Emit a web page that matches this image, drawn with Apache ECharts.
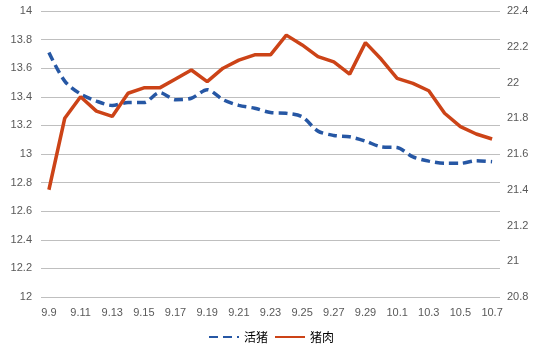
<!DOCTYPE html>
<html>
<head>
<meta charset="utf-8">
<script src="https://cdn.jsdelivr.net/npm/echarts@6/dist/echarts.min.js"></script>
<style>
  html, body { margin: 0; padding: 0; background: #fff; }
  #chart { width: 542px; height: 354px; }
</style>
</head>
<body>
<div id="chart"></div>
<script>
// 日期（9.9 ~ 10.7）
var dates = ['9.9', '9.10', '9.11', '9.12', '9.13', '9.14', '9.15', '9.16', '9.17', '9.18',
  '9.19', '9.20', '9.21', '9.22', '9.23', '9.24', '9.25', '9.26', '9.27', '9.28',
  '9.29', '9.30', '10.1', '10.2', '10.3', '10.4', '10.5', '10.6', '10.7'];

// 活猪 (左轴)
var livePig = [13.71, 13.51, 13.42, 13.37, 13.34, 13.36, 13.36, 13.43, 13.38, 13.39,
  13.45, 13.38, 13.34, 13.32, 13.29, 13.285, 13.26, 13.16, 13.13, 13.12,
  13.09, 13.05, 13.045, 12.98, 12.95, 12.935, 12.935, 12.953, 12.946];

// 猪肉 (右轴)
var pork = [21.40, 21.80, 21.92, 21.84, 21.81, 21.94, 21.97, 21.97, 22.02, 22.07,
  22.005, 22.08, 22.125, 22.155, 22.155, 22.265, 22.21, 22.145, 22.115, 22.047,
  22.223, 22.13, 22.023, 21.995, 21.954, 21.828, 21.753, 21.712, 21.684];

var chart = echarts.init(document.getElementById('chart'));
var labelFont = { color: '#595959', fontSize: 11, fontFamily: 'Liberation Sans' };

chart.setOption({
    animation: false,
    grid: { left: 41, right: 42, top: 11, bottom: 57 },
    legend: {
        bottom: 6,
        left: 'center',
        itemWidth: 30,
        itemHeight: 10,
        itemGap: 6,
        itemStyle: { opacity: 0 },
        textStyle: { color: '#000', fontSize: 12, fontFamily: 'Noto Sans CJK SC' },
        data: ['活猪', '猪肉']
    },
    xAxis: {
        type: 'category',
        data: dates,
        boundaryGap: true,
        axisLine: { show: false },
        axisTick: { show: false },
        axisLabel: Object.assign({ interval: 1, margin: 10 }, labelFont)
    },
    yAxis: [{
        type: 'value',
        min: 12,
        max: 14,
        interval: 0.2,
        axisLine: { show: false },
        axisTick: { show: false },
        axisLabel: Object.assign({ margin: 9 }, labelFont),
        splitLine: { lineStyle: { color: '#bfbfbf', width: 1 } }
    }, {
        type: 'value',
        min: 20.8,
        max: 22.4,
        interval: 0.2,
        axisLine: { show: false },
        axisTick: { show: false },
        axisLabel: Object.assign({ margin: 7 }, labelFont),
        splitLine: { show: false }
    }],
    series: [{
        name: '活猪',
        type: 'line',
        data: livePig,
        yAxisIndex: 0,
        symbol: 'none',
        smooth: 0.3,
        itemStyle: { color: '#2657a4' },
        lineStyle: { color: '#2657a4', width: 3.5, type: [9, 5] }
    }, {
        name: '猪肉',
        type: 'line',
        data: pork,
        yAxisIndex: 1,
        symbol: 'none',
        itemStyle: { color: '#cc4317' },
        lineStyle: { color: '#cc4317', width: 3.5 }
    }]
});
</script>
</body>
</html>
